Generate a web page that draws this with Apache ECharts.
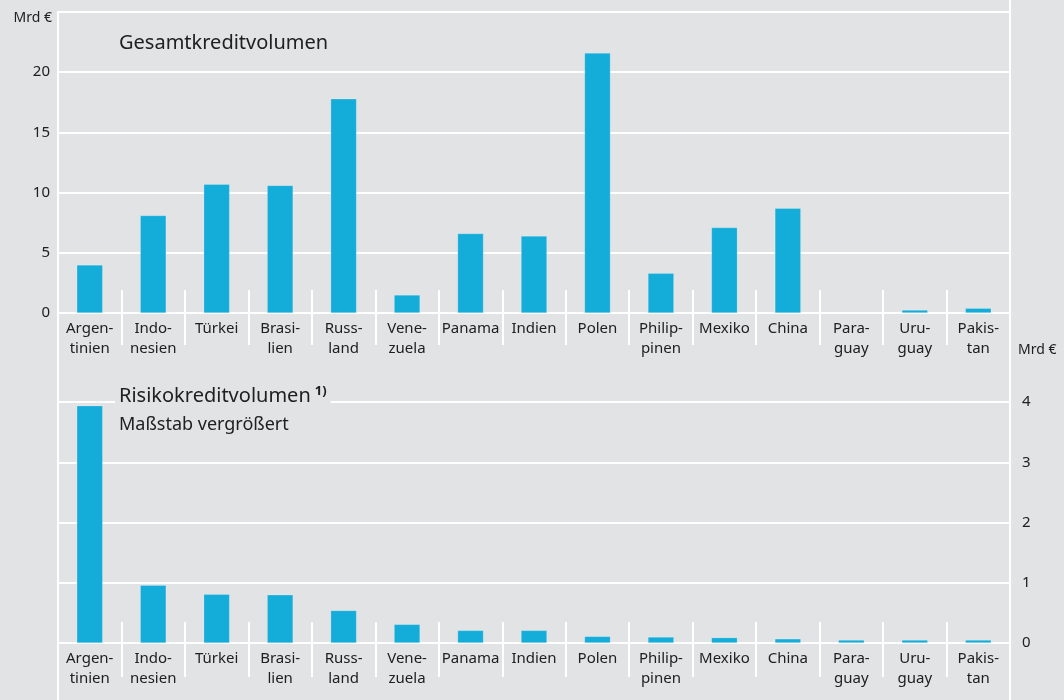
<!DOCTYPE html>
<html>
<head>
<meta charset="utf-8">
<script src="https://cdn.jsdelivr.net/npm/echarts@6/dist/echarts.min.js"></script>
<style>
  html, body { margin: 0; padding: 0; background: #e2e3e5; }
  #chartBox { width: 1064px; height: 700px; }
</style>
</head>
<body>
<div id="chartBox"></div>
<script>
// Länder (Kategorien)
const laender = ['Argen-\ntinien', 'Indo-\nnesien', 'Türkei', 'Brasi-\nlien', 'Russ-\nland', 'Vene-\nzuela',
  'Panama', 'Indien', 'Polen', 'Philip-\npinen', 'Mexiko', 'China', 'Para-\nguay', 'Uru-\nguay', 'Pakis-\ntan']
// Mrd €
const gesamtkredit = [4.0, 8.1, 10.7, 10.6, 17.8, 1.5, 6.6, 6.4, 21.6, 3.3, 7.1, 8.7, 0, 0.25, 0.4]
const risikokredit = [3.94, 0.96, 0.81, 0.8, 0.54, 0.31, 0.21, 0.21, 0.11, 0.1, 0.09, 0.07, 0.05, 0.05, 0.05]

const blau = '#14acd9'
const weiss = '#ffffff'
const text = '#202020'

let myChart = echarts.init(document.getElementById('chartBox'))

let catLabel = { interval: 0, fontSize: 15, lineHeight: 20, color: text, margin: 6 }

// Trennstriche zwischen den Ländern: eigenes Band-Grid mit splitLine
function trennAxis (gridIndex) {
  return {
    type: 'category', gridIndex: gridIndex, data: laender,
    axisLine: { show: false }, axisTick: { show: false }, axisLabel: { show: false },
    splitLine: { show: true, interval: 0, lineStyle: { color: weiss, width: 2 } }
  }
}

myChart.setOption({
  backgroundColor: '#e2e3e5',
  textStyle: { fontFamily: 'Noto Sans' },
  title: [{
    text: 'Gesamtkreditvolumen',
    left: 119, top: 33, padding: 0,
    textStyle: { fontSize: 20, fontWeight: 'normal', color: text }
  }, {
    text: 'Risikokreditvolumen{s|1)}',
    subtext: 'Maßstab vergrößert',
    left: 115, top: 383, padding: [2, 4],
    backgroundColor: '#e2e3e5',
    itemGap: 6,
    textStyle: {
      fontSize: 20, fontWeight: 'normal', color: text, lineHeight: 23,
      rich: { s: { fontSize: 13, color: text, fontWeight: 'bold', verticalAlign: 'top', padding: [0, 0, 8, 4] } }
    },
    subtextStyle: { fontSize: 18, color: text, lineHeight: 21 }
  }],
  grid: [
    { left: 58, right: 54, top: 12, height: 301 },
    { left: 58, right: 54, top: 402, height: 241 },
    { left: 58, right: 54, top: 290, height: 55 },
    { left: 58, right: 54, top: 622, height: 55 }
  ],
  xAxis: [{
    type: 'category', gridIndex: 0, data: laender,
    axisLine: { lineStyle: { color: weiss, width: 2 } },
    axisTick: { show: false },
    axisLabel: catLabel
  }, {
    type: 'category', gridIndex: 1, data: laender,
    axisLine: { lineStyle: { color: weiss, width: 2 } },
    axisTick: { show: false },
    axisLabel: catLabel
  }, trennAxis(2), trennAxis(3)],
  yAxis: [{
    type: 'value', gridIndex: 0, position: 'left',
    min: 0, max: 25, interval: 5,
    name: 'Mrd €', nameLocation: 'end', nameGap: -6,
    nameTextStyle: { fontSize: 14, color: text, align: 'right', verticalAlign: 'middle', padding: [0, 6, 0, 0] },
    axisLine: { show: false }, axisTick: { show: false },
    axisLabel: { fontSize: 15, color: text, margin: 8, showMaxLabel: false },
    splitLine: { lineStyle: { color: weiss, width: 2 } }
  }, {
    type: 'value', gridIndex: 1, position: 'right',
    min: 0, max: 4, interval: 1,
    name: 'Mrd €', nameLocation: 'end', nameGap: 52,
    nameTextStyle: { fontSize: 14, color: text, align: 'left', verticalAlign: 'middle', padding: [0, 0, 0, 8] },
    axisLine: { show: false }, axisTick: { show: false },
    axisLabel: { fontSize: 15, color: text, margin: 12 },
    splitLine: { lineStyle: { color: weiss, width: 2 } }
  }, {
    type: 'value', gridIndex: 2, min: 0, max: 1, show: false
  }, {
    type: 'value', gridIndex: 3, min: 0, max: 1, show: false
  }],
  graphic: [{
    type: 'line', shape: { x1: 58, y1: 11, x2: 58, y2: 700 },
    style: { stroke: weiss, lineWidth: 2 }, z: 1
  }, {
    type: 'line', shape: { x1: 1010, y1: 0, x2: 1010, y2: 700 },
    style: { stroke: weiss, lineWidth: 2 }, z: 1
  }],
  series: [{
    name: 'Gesamtkreditvolumen',
    type: 'bar', xAxisIndex: 0, yAxisIndex: 0,
    data: gesamtkredit, barWidth: 26,
    itemStyle: { color: blau, borderColor: 'rgba(255,255,255,0.35)', borderWidth: 0.6 }
  }, {
    name: 'Risikokreditvolumen',
    type: 'bar', xAxisIndex: 1, yAxisIndex: 1,
    data: risikokredit, barWidth: 26,
    itemStyle: { color: blau, borderColor: 'rgba(255,255,255,0.35)', borderWidth: 0.6 }
  }]
})
</script>
</body>
</html>
